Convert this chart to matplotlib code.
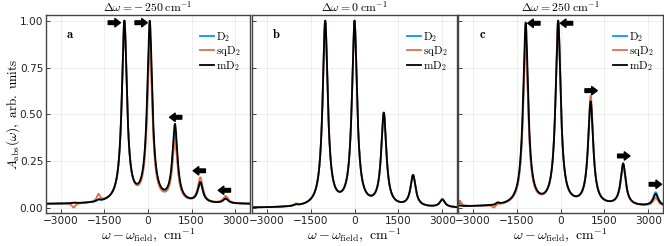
import numpy as np
import matplotlib
matplotlib.use('Agg')
import matplotlib.pyplot as plt

plt.rcParams['mathtext.fontset'] = 'cm'
plt.rcParams['font.family'] = 'DejaVu Sans'

# ---- Dados ----
titulos = [r'$\Delta\omega = -\,250\;\mathrm{cm}^{-1}$',
           r'$\Delta\omega = 0\;\mathrm{cm}^{-1}$',
           r'$\Delta\omega = 250\;\mathrm{cm}^{-1}$']
letras = ['a', 'b', 'c']
nomes = [r'$\mathrm{D}_2$', r'$\mathrm{sqD}_2$', r'$\mathrm{mD}_2$']

# posicoes dos picos (cm^-1) e valor do espectro em cada pico
pos_a = [-2550, -1700, -810, 60, 925, 1795, 2665]
larg_a = [70, 70, 105, 105, 105, 105, 105]
d2_a = [0.030, 0.048, 1.00, 0.933, 0.40, 0.135, 0.055]
sqd2_a = [0.004, 0.077, 1.00, 0.861, 0.364, 0.165, 0.066]
md2_a = [0.030, 0.048, 1.00, 1.00, 0.45, 0.140, 0.052]
base_a = 0.022

pos_b = [-2000, -1000, 0, 1000, 2000, 3000]
larg_b = [70, 105, 105, 105, 105, 105]
d2_b = [0.022, 1.00, 1.00, 0.51, 0.178, 0.048]
sqd2_b = [0.026, 1.00, 1.00, 0.51, 0.178, 0.048]
md2_b = [0.022, 1.00, 1.00, 0.51, 0.178, 0.048]
base_b = 0.002

pos_c = [-3440, -2270, -2150, -1190, -80, 1030, 2140, 3250]
larg_c = [70, 70, 70, 105, 105, 105, 105, 105]
d2_c = [0.030, 0.020, 0.028, 0.90, 1.00, 0.57, 0.235, 0.086]
sqd2_c = [0.040, 0.004, 0.022, 0.88, 1.00, 0.60, 0.226, 0.055]
md2_c = [0.015, 0.020, 0.032, 0.99, 1.00, 0.57, 0.240, 0.077]
base_c = 0.008

# setas: centro x, altura y, sentido (+1 direita, -1 esquerda)
setas_a = [(-1155, 0.989, 1), (-235, 0.989, 1), (950, 0.485, -1), (1760, 0.200, -1), (2620, 0.096, -1)]
setas_b = []
setas_c = [(-910, 0.986, -1), (205, 0.986, -1), (1045, 0.627, 1), (2160, 0.279, 1), (3240, 0.128, 1)]

paineis = [
    (pos_a, larg_a, [d2_a, sqd2_a, md2_a], base_a, setas_a),
    (pos_b, larg_b, [d2_b, sqd2_b, md2_b], base_b, setas_b),
    (pos_c, larg_c, [d2_c, sqd2_c, md2_c], base_c, setas_c),
]

cores = ['#009AFA', '#E26F46', 'black']
x = np.linspace(-3500, 3500, 3001)


def lorentz(xx, x0, g):
    return 1.0 / (1.0 + ((xx - x0) / g) ** 2)


def espectro(pos, larg, valores, base):
    pos = np.array(pos, dtype=float)
    M = np.array([[lorentz(p, q, g) for q, g in zip(pos, larg)] for p in pos])
    amp = np.linalg.solve(M, np.array(valores) - base)
    y = np.full_like(x, base)
    for a, q, g in zip(amp, pos, larg):
        y += a * lorentz(x, q, g)
    return y


fig = plt.figure(figsize=(6.64, 2.46), dpi=100)
W, H = 664, 246
caixas = [(46, 250), (252, 457), (458, 663)]
topo, fundo = 15, 213.2

for i, (pos, larg, curvas, base, setas) in enumerate(paineis):
    x0, x1 = caixas[i]
    ax = fig.add_axes([x0 / W, 1 - fundo / H, (x1 - x0) / W, (fundo - topo) / H])

    for valores, cor, nome in zip(curvas, cores, nomes):
        ax.plot(x, espectro(pos, larg, valores, base), color=cor, lw=1.3, label=nome)

    for cx, cy, s in setas:
        ax.annotate('', xy=(cx + s * 210, cy), xytext=(cx - s * 210, cy),
                    arrowprops=dict(arrowstyle='simple,head_length=0.4,head_width=0.6,tail_width=0.26',
                                    color='black', shrinkA=0, shrinkB=0, mutation_scale=10))

    ax.set_xlim(-3500, 3500)
    ax.set_ylim(-0.026, 1.03)
    ax.set_xticks([-3000, -1500, 0, 1500, 3000])
    ax.set_xticklabels(['\u22123000', '\u22121500', '0', '1500', '3000'])
    ax.set_yticks([0, 0.25, 0.5, 0.75, 1.0])
    if i == 0:
        ax.set_yticklabels(['0.00', '0.25', '0.50', '0.75', '1.00'])
        ax.set_ylabel(r'$A_{\mathrm{abs}}(\omega),\ \mathrm{arb.\ units}$', fontsize=9.5)
        ax.yaxis.set_label_coords(-0.12, 0.5)
    else:
        ax.set_yticklabels([])
    ax.tick_params(direction='in', length=3, width=0.6, labelsize=7.6, pad=2, colors='#222222')
    ax.grid(True, color='black', alpha=0.08, lw=0.6)
    for sp in ax.spines.values():
        sp.set_color('#444444')
        sp.set_linewidth(1.0)

    ax.set_title(titulos[i], fontsize=8.5, pad=1.5)
    ax.set_xlabel(r'$\omega - \omega_{\mathrm{field}},\ \mathrm{cm}^{-1}$', fontsize=10, labelpad=0)
    ax.text(0.12, 0.9, r'$\mathbf{' + letras[i] + '}$', transform=ax.transAxes, fontsize=9,
            va='center', ha='center')
    ax.legend(loc='upper right', frameon=False, fontsize=8, handlelength=1.2,
              handletextpad=0.25, labelspacing=0.05, borderaxespad=0.4,
              bbox_to_anchor=(1.0, 0.97))

fig.savefig('out.png', dpi=100)
